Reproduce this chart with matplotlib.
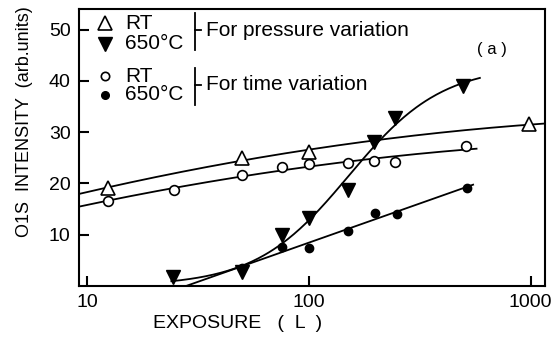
import numpy as np
import matplotlib
matplotlib.use("Agg")
import matplotlib.pyplot as plt

plt.rcParams["font.family"] = ["Liberation Sans", "DejaVu Sans"]

# open triangles: RT, pressure variation
rt_p_x = [12.4, 50, 100, 980]
rt_p_y = [19.1, 25.0, 26.1, 31.5]
# filled down-triangles: 650 C, pressure variation
ht_p_x = [24.4, 50, 75.5, 100, 150, 196, 245, 494]
ht_p_y = [1.8, 2.8, 10.0, 13.3, 18.7, 28.0, 32.7, 38.9]
# open circles: RT, time variation
rt_t_x = [12.4, 24.6, 50, 76, 100, 150, 196, 245, 509]
rt_t_y = [16.6, 18.7, 21.7, 23.2, 23.8, 24.0, 24.4, 24.2, 27.3]
# filled circles: 650 C, time variation
ht_t_x = [50, 76, 100, 150, 198, 250, 515]
ht_t_y = [3.5, 7.6, 7.5, 10.8, 14.3, 14.1, 19.1]

x_ticks = [10, 100, 1000]
y_ticks = [10, 20, 30, 40, 50]


def poly_curve(xs, ys, deg, x0, x1):
    p = np.polyfit(np.log10(xs), ys, deg)
    xx = np.logspace(np.log10(x0), np.log10(x1), 200)
    return xx, np.polyval(p, np.log10(xx))


def sigmoid_curve(xs, ys, x0, x1):
    # logistic in log10(x), fitted by a coarse grid search
    u = np.log10(xs)
    ys = np.asarray(ys)
    best = None
    for u0 in np.linspace(1.8, 2.4, 61):
        for s in np.linspace(0.05, 0.4, 71):
            g = 1 / (1 + np.exp(-(u - u0) / s))
            A = (g @ ys) / (g @ g)
            err = np.sum((A * g - ys) ** 2)
            if best is None or err < best[0]:
                best = (err, A, u0, s)
    _, A, u0, s = best
    xx = np.logspace(np.log10(x0), np.log10(x1), 200)
    return xx, A / (1 + np.exp(-(np.log10(xx) - u0) / s))


fig = plt.figure(figsize=(5.58, 3.41), dpi=100)
ax = fig.add_axes([79 / 558, 1 - 286 / 341, 466 / 558, 277 / 341])
ax.set_xscale("log")
ax.set_xlim(9.2, 1160)
ax.set_ylim(0, 54)

lw = 1.3
curves = [poly_curve(rt_p_x, rt_p_y, 2, 9.2, 1160),
          poly_curve(rt_t_x, rt_t_y, 2, 9.2, 570),
          sigmoid_curve(ht_p_x, ht_p_y, 24, 590),
          poly_curve(ht_t_x, ht_t_y, 1, 26, 550)]
for cx, cy in curves:
    ax.plot(cx, cy, color="black", lw=lw)

ax.plot(rt_p_x, rt_p_y, "^", ms=10, mfc="white", mec="black", mew=1.2, clip_on=False)
ax.plot(ht_p_x, ht_p_y, "v", ms=10, color="black", clip_on=False)
ax.plot(rt_t_x, rt_t_y, "o", ms=7, mfc="white", mec="black", mew=1.2, clip_on=False)
ax.plot(ht_t_x, ht_t_y, "o", ms=6, color="black", clip_on=False)

# legend drawn by hand
tr = ax.transAxes
ax.plot([0.056], [0.949], "^", ms=10, mfc="white", mec="black", mew=1.2, transform=tr)
ax.plot([0.056], [0.874], "v", ms=10, color="black", transform=tr)
ax.plot([0.056], [0.758], "o", ms=6, mfc="white", mec="black", mew=1.2, transform=tr)
ax.plot([0.056], [0.690], "o", ms=5.5, color="black", transform=tr)
fs = 15
ax.text(0.099, 0.949, "RT", fontsize=fs, va="center", transform=tr)
ax.text(0.099, 0.874, "650°C", fontsize=fs, va="center", transform=tr)
ax.text(0.099, 0.758, "RT", fontsize=fs, va="center", transform=tr)
ax.text(0.099, 0.690, "650°C", fontsize=fs, va="center", transform=tr)
for top, bot, mid, label in [(0.986, 0.852, 0.924, "For pressure variation"),
                             (0.787, 0.653, 0.726, "For time variation")]:
    ax.plot([0.249, 0.249], [bot, top], color="black", lw=1.3, transform=tr)
    ax.plot([0.249, 0.262], [mid, mid], color="black", lw=1.3, transform=tr)
    ax.text(0.2725, mid, label, fontsize=fs, va="center", transform=tr)
ax.text(0.886, 0.852, "( a )", fontsize=12, va="center", ha="center", transform=tr)

ax.set_xticks(x_ticks)
ax.set_xticklabels([str(t) for t in x_ticks])
ax.set_yticks(y_ticks)
ax.minorticks_off()
ax.tick_params(direction="in", length=7, width=1.5, labelsize=14, pad=6)
for s in ax.spines.values():
    s.set_linewidth(1.5)

fig.text(25 / 558, 1 - 122 / 341, "O1S  INTENSITY  (arb.units)", rotation=90,
         fontsize=13, ha="center", va="center")
fig.text(153 / 558, 1 - 324 / 341, "EXPOSURE   (  L  )", fontsize=14,
         ha="left", va="center")

fig.savefig("out.png", dpi=100)
